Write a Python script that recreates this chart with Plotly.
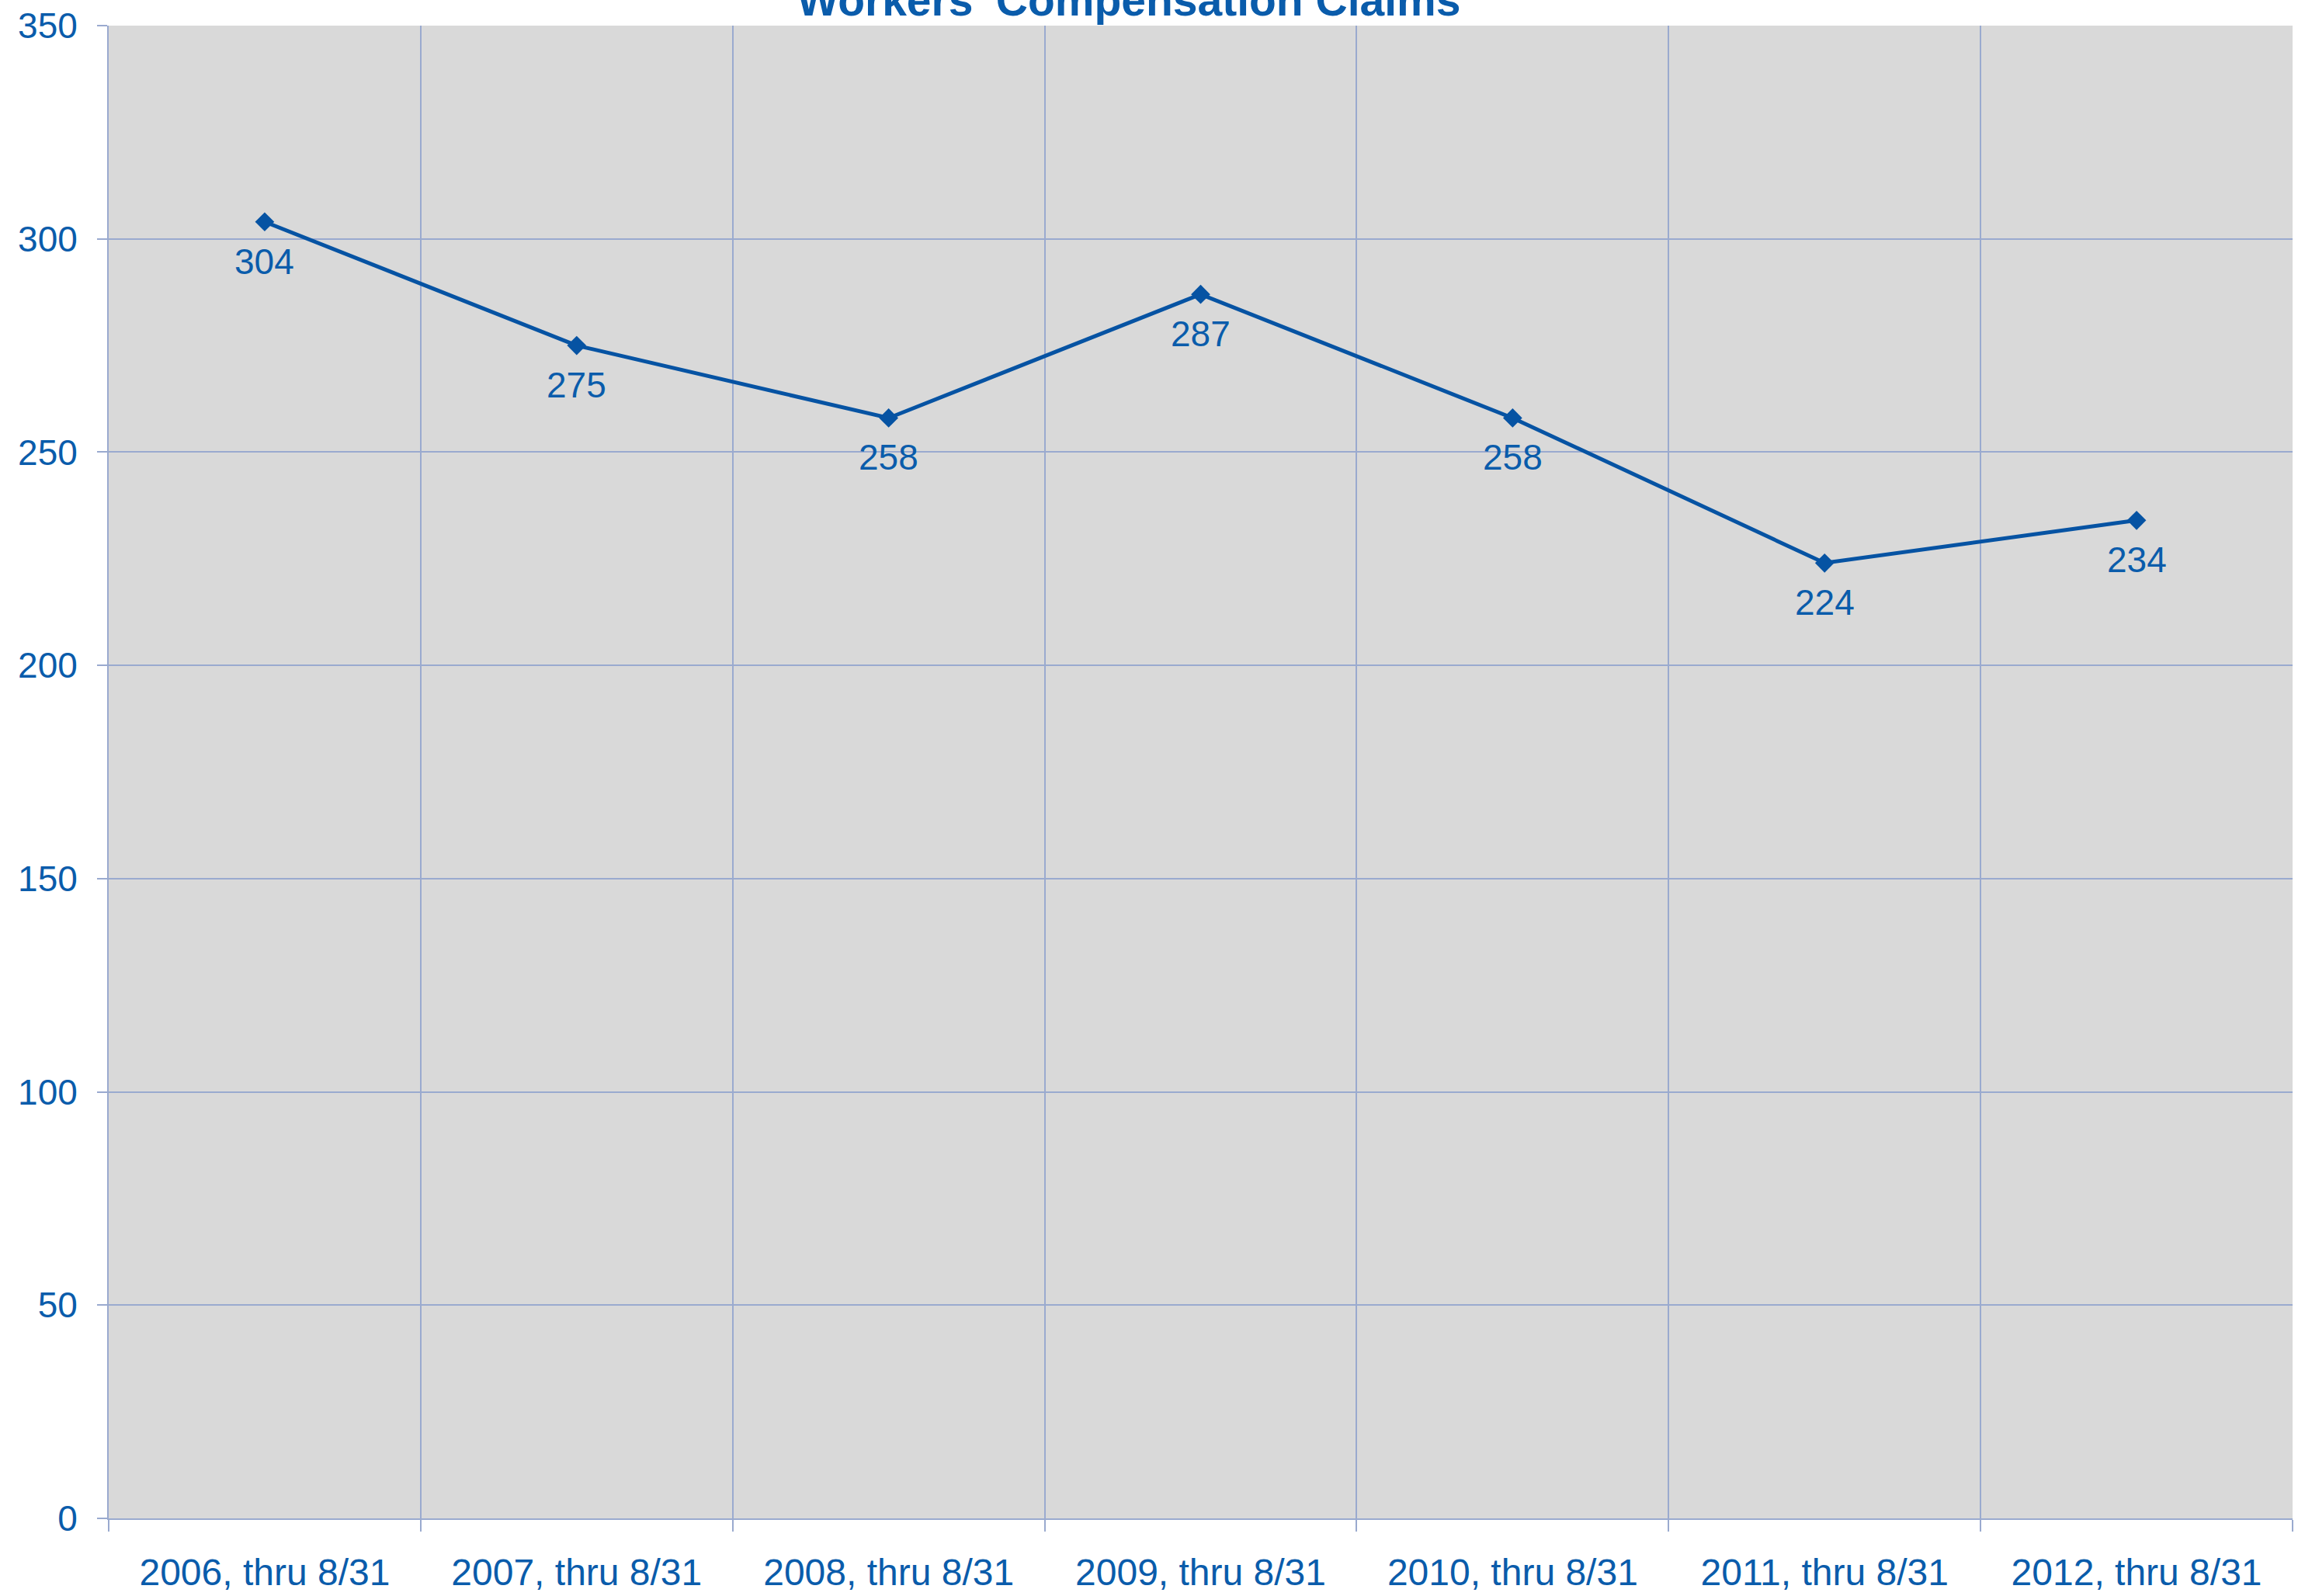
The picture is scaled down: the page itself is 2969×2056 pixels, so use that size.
import plotly.graph_objects as go

categories = ["2006, thru 8/31", "2007, thru 8/31", "2008, thru 8/31", "2009, thru 8/31",
              "2010, thru 8/31", "2011, thru 8/31", "2012, thru 8/31"]
claims = [304, 275, 258, 287, 258, 224, 234]
y_ticks = [0, 50, 100, 150, 200, 250, 300, 350]

TEXT = "#0A5CAB"
LINE = "#0653A3"
GRID = "#9AAACF"
FONT = "Liberation Sans, Arial, sans-serif"

fig = go.Figure(go.Scatter(
    x=categories, y=claims, mode="lines+markers",
    line=dict(color=LINE, width=5),
    marker=dict(symbol="diamond", size=19, color=LINE),
    cliponaxis=False, showlegend=False,
))

for c, v in zip(categories, claims):
    fig.add_annotation(x=c, y=v, text=str(v), showarrow=False,
                       xanchor="center", yanchor="middle", yshift=-51,
                       font=dict(size=46, color=TEXT, family=FONT))

fig.update_layout(
    width=2969, height=2056,
    margin=dict(l=140, r=16, t=33, b=100, autoexpand=False),
    paper_bgcolor="white", plot_bgcolor="#D9D9D9",
    font=dict(family=FONT, color=TEXT, size=46),
    title=dict(text="<b>Workers' Compensation Claims</b>", x=0.4897, xref="container",
               xanchor="center", y=1.0, yref="container", yanchor="middle",
               font=dict(size=57, color=TEXT, family=FONT)),
)
fig.update_xaxes(
    type="category", range=[-0.5, 6.5], tickson="boundaries", automargin=False,
    showgrid=True, gridcolor=GRID, gridwidth=2,
    showline=True, linecolor=GRID, linewidth=2,
    ticks="outside", ticklen=15, tickcolor=GRID, tickwidth=2,
    ticklabelstandoff=26, tickfont=dict(size=48, color=TEXT),
)
fig.update_yaxes(
    range=[0, 350], tickvals=y_ticks, automargin=False,
    showgrid=True, gridcolor=GRID, gridwidth=2,
    showline=True, linecolor=GRID, linewidth=2,
    ticks="outside", ticklen=13, tickcolor=GRID, tickwidth=2,
    ticklabelstandoff=16, tickfont=dict(size=46, color=TEXT), zeroline=False,
)

fig.write_html("out.html", config={"displayModeBar": False},
               post_script="document.body.style.margin='0';document.body.style.overflow='hidden';")
